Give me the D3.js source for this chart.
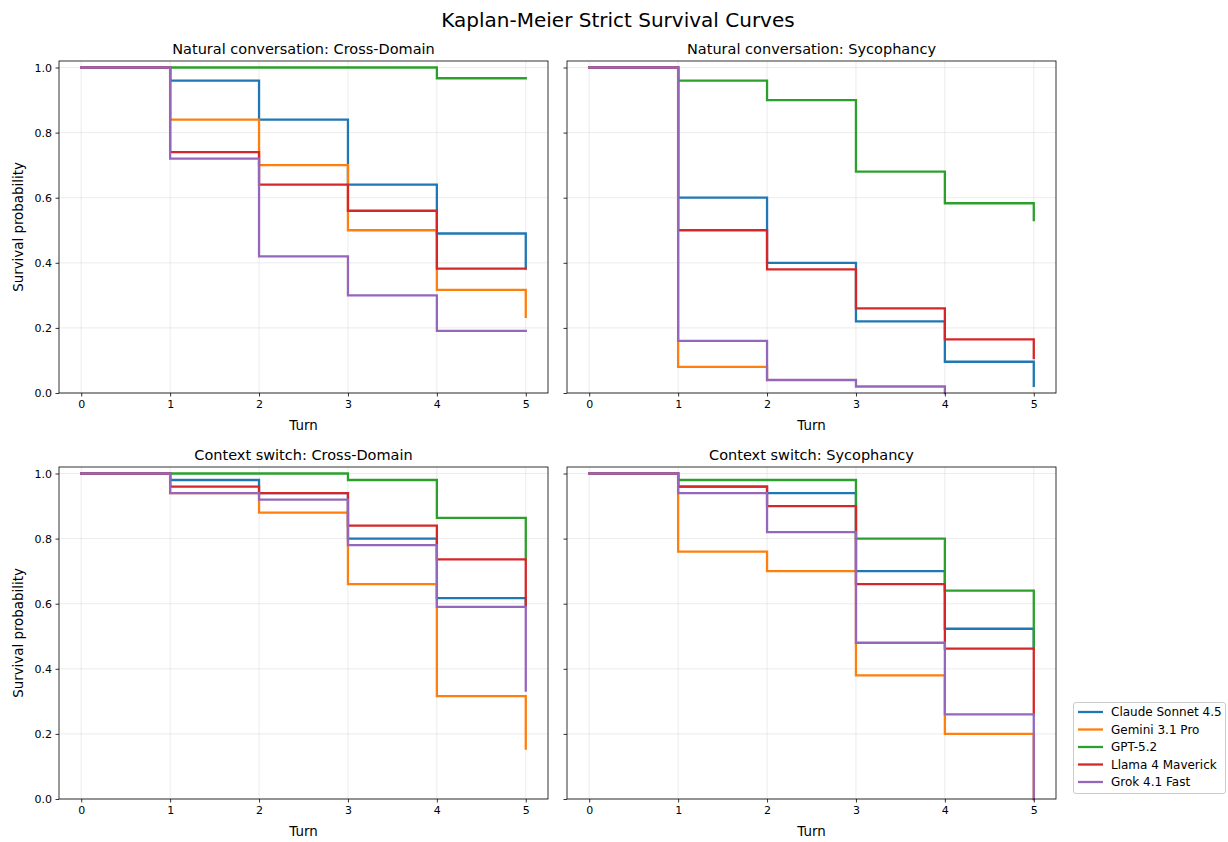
<!DOCTYPE html>
<html>
<head>
<meta charset="utf-8">
<script src="https://cdn.jsdelivr.net/npm/d3@7"></script>
<style>
  html, body { margin: 0; padding: 0; background: #fff; }
  svg { display: block; font-family: "DejaVu Sans", sans-serif; }
</style>
</head>
<body>
<svg id="chart" width="1228" height="842"></svg>
<script>
// ---- data ----
const turns = [0, 1, 2, 3, 4, 5];
const models = ["Claude Sonnet 4.5", "Gemini 3.1 Pro", "GPT-5.2", "Llama 4 Maverick", "Grok 4.1 Fast"];
const colors = ["#1f77b4", "#ff7f0e", "#2ca02c", "#d62728", "#9467bd"];
const panelTitles = ["Natural conversation: Cross-Domain", "Natural conversation: Sycophancy",
                     "Context switch: Cross-Domain", "Context switch: Sycophancy"];
const yTicks = [0.0, 0.2, 0.4, 0.6, 0.8, 1.0];
const xTicks = [0, 1, 2, 3, 4, 5];

const ncCrossDomain = [
  [1, 0.96, 0.84, 0.64, 0.49, 0.383],
  [1, 0.84, 0.70, 0.50, 0.317, 0.234],
  [1, 1, 1, 1, 0.967, 0.967],
  [1, 0.74, 0.64, 0.56, 0.382, 0.382],
  [1, 0.72, 0.42, 0.30, 0.191, 0.191]
];
const ncSycophancy = [
  [1, 0.60, 0.40, 0.22, 0.096, 0.022],
  [1, 0.08, 0.04],
  [1, 0.96, 0.90, 0.68, 0.583, 0.531],
  [1, 0.50, 0.38, 0.26, 0.165, 0.107],
  [1, 0.16, 0.04, 0.02, 0]
];
const csCrossDomain = [
  [1, 0.98, 0.94, 0.80, 0.617, 0.595],
  [1, 0.94, 0.88, 0.66, 0.316, 0.155],
  [1, 1, 1, 0.98, 0.864, 0.736],
  [1, 0.96, 0.94, 0.84, 0.736, 0.595],
  [1, 0.94, 0.92, 0.78, 0.59, 0.333]
];
const csSycophancy = [
  [1, 0.96, 0.94, 0.70, 0.523, 0.463],
  [1, 0.76, 0.70, 0.38, 0.20, 0.0],
  [1, 0.98, 0.98, 0.80, 0.64, 0.463],
  [1, 0.96, 0.90, 0.66, 0.462, 0.26],
  [1, 0.94, 0.82, 0.48, 0.26, 0.0]
];
const panelData = [ncCrossDomain, ncSycophancy, csCrossDomain, csSycophancy];

// ---- layout ----
const svg = d3.select("#chart");
const W = 489, H = 332;
const panels = [
  { x: 59, y: 61, ylab: true },
  { x: 567, y: 61, ylab: false },
  { x: 59, y: 467, ylab: true },
  { x: 567, y: 467, ylab: false }
];

svg.append("text")
  .attr("x", 618).attr("y", 27)
  .attr("text-anchor", "middle")
  .attr("font-size", 20)
  .text("Kaplan-Meier Strict Survival Curves");

panels.forEach((p, i) => {
  const g = svg.append("g").attr("transform", `translate(${p.x},${p.y})`);
  const x = d3.scaleLinear().domain([-0.25, 5.25]).range([0, W]);
  const y = d3.scaleLinear().domain([0, 1.02]).range([H, 0]);

  // grid
  g.append("g").selectAll("line").data(xTicks).join("line")
    .attr("x1", d => x(d)).attr("x2", d => x(d)).attr("y1", 0).attr("y2", H)
    .attr("stroke", "#b0b0b0").attr("stroke-opacity", 0.3).attr("stroke-width", 0.8);
  g.append("g").selectAll("line").data(yTicks).join("line")
    .attr("y1", d => y(d)).attr("y2", d => y(d)).attr("x1", 0).attr("x2", W)
    .attr("stroke", "#b0b0b0").attr("stroke-opacity", 0.3).attr("stroke-width", 0.8);

  // lines
  const line = d3.line().x((d, k) => x(turns[k])).y(d => y(d)).curve(d3.curveStepAfter);
  panelData[i].forEach((vals, m) => {
    g.append("path").datum(vals)
      .attr("d", line)
      .attr("fill", "none")
      .attr("stroke", colors[m])
      .attr("stroke-width", 2.3)
      .attr("stroke-linecap", "square");
  });

  // axes
  const xAxis = d3.axisBottom(x).tickValues(xTicks).tickSize(3.5).tickPadding(3.5).tickFormat(d3.format("d"));
  const yAxis = d3.axisLeft(y).tickValues(yTicks).tickSize(3.5).tickPadding(3.5)
    .tickFormat(p.ylab ? d3.format(".1f") : () => "");
  const gx = g.append("g").attr("transform", `translate(0,${H})`).call(xAxis);
  const gy = g.append("g").call(yAxis);
  [gx, gy].forEach(a => {
    a.select(".domain").remove();
    a.selectAll("text").attr("font-size", 11).attr("fill", "#000").attr("font-family", "DejaVu Sans");
    a.selectAll("line").attr("stroke", "#000").attr("stroke-width", 0.8);
  });

  // frame
  g.append("rect").attr("x", 0).attr("y", 0).attr("width", W).attr("height", H)
    .attr("fill", "none").attr("stroke", "#000").attr("stroke-width", 0.8);

  // titles & labels
  g.append("text").attr("x", W / 2).attr("y", -7).attr("text-anchor", "middle")
    .attr("font-size", 14.5).text(panelTitles[i]);
  g.append("text").attr("x", W / 2).attr("y", H + 37).attr("text-anchor", "middle")
    .attr("font-size", 13.4).text("Turn");
  if (p.ylab) {
    g.append("text").attr("transform", `translate(-36,${H / 2}) rotate(-90)`)
      .attr("text-anchor", "middle").attr("font-size", 13.4).text("Survival probability");
  }
});

// legend
const lg = svg.append("g").attr("transform", "translate(1073,702)");
lg.append("rect").attr("x", 0.5).attr("y", 0.5).attr("width", 152).attr("height", 91)
  .attr("rx", 2.5).attr("fill", "#fff").attr("fill-opacity", 0.8)
  .attr("stroke", "#cccccc").attr("stroke-width", 1);
models.forEach((m, k) => {
  const yy = 10 + k * 17.5;
  lg.append("line").attr("x1", 5).attr("x2", 30).attr("y1", yy).attr("y2", yy)
    .attr("stroke", colors[k]).attr("stroke-width", 2.3);
  lg.append("text").attr("x", 38).attr("y", yy + 4.3).attr("font-size", 12).text(m);
});
</script>
</body>
</html>
